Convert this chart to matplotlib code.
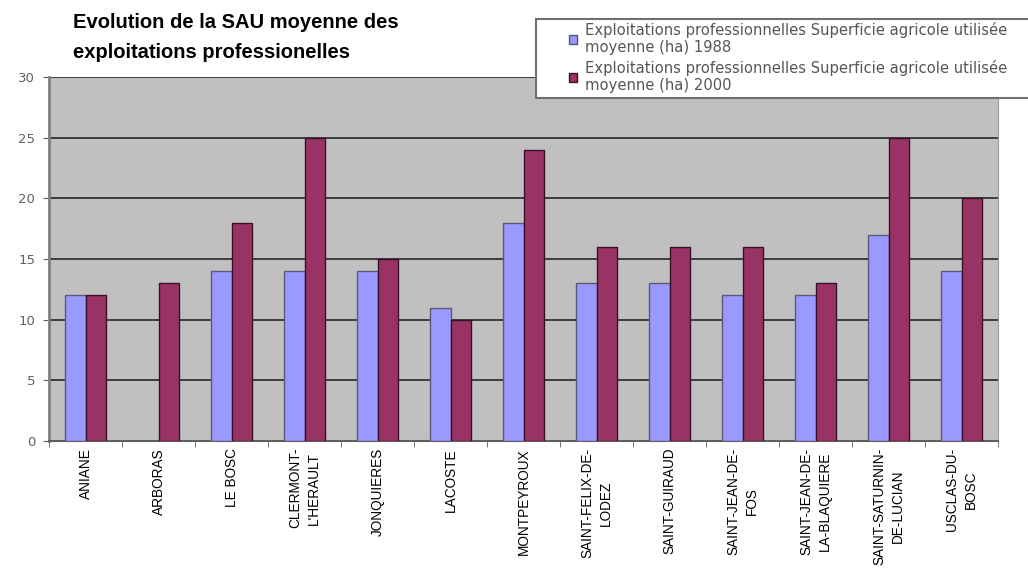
import numpy as np
import matplotlib
matplotlib.use("Agg")
import matplotlib.pyplot as plt
from matplotlib.patches import Rectangle

plt.rcParams['font.family'] = ['Liberation Sans', 'DejaVu Sans']

communes = ["ANIANE", "ARBORAS", "LE BOSC", "CLERMONT-\nL'HERAULT", "JONQUIERES",
            "LACOSTE", "MONTPEYROUX", "SAINT-FELIX-DE-\nLODEZ", "SAINT-GUIRAUD",
            "SAINT-JEAN-DE-\nFOS", "SAINT-JEAN-DE-\nLA-BLAQUIERE", "SAINT-SATURNIN-\nDE-LUCIAN",
            "USCLAS-DU-\nBOSC"]
sau1988 = [12, 0, 14, 14, 14, 11, 18, 13, 13, 12, 12, 17, 14]
sau2000 = [12, 13, 18, 25, 15, 10, 24, 16, 16, 16, 13, 25, 20]
labels = ["Exploitations professionnelles Superficie agricole utilisée\nmoyenne (ha) 1988",
          "Exploitations professionnelles Superficie agricole utilisée\nmoyenne (ha) 2000"]

W, H = 1028, 571
fig = plt.figure(figsize=(W/100, H/100), dpi=100)
ax = fig.add_axes([49/W, 1-441/H, (998-49)/W, (441-77)/H])

x = np.arange(len(communes))
w = 0.275
ax.bar(x - w/2, sau1988, w, color="#9999FF", edgecolor="#5a5a78", linewidth=1, label=labels[0], zorder=3)
ax.bar(x + w/2, sau2000, w, color="#993366", edgecolor="#3a1026", linewidth=1, label=labels[1], zorder=3)

ax.set_facecolor("#C0C0C0")
ax.set_xlim(-0.5, len(communes) - 0.5)
ax.set_ylim(0, 30)
ax.set_yticks(range(0, 31, 5))
ax.yaxis.grid(True, color="#333333", linewidth=1.3, zorder=1)

ax.set_xticks(x)
ax.set_xticklabels(communes, rotation=90, va="top", ha="center", multialignment="center",
                   fontsize=9.8, linespacing=1.45)
ax.tick_params(axis="x", length=0, pad=5)
ax.set_xticks(np.arange(-0.5, len(communes)), minor=True)
ax.tick_params(axis="x", which="minor", length=4, color="#606060")
ax.tick_params(axis="y", length=4, color="#606060", labelcolor="#606060", pad=6)
for lab in ax.get_yticklabels():
    lab.set_fontfamily("DejaVu Sans")
    lab.set_fontsize(9.5)

ax.spines["top"].set_visible(False)
ax.spines["right"].set_color("#9a9a9a")
ax.spines["left"].set_color("#808080")
ax.spines["left"].set_linewidth(2)
ax.spines["bottom"].set_color("#606060")
ax.spines["bottom"].set_linewidth(1.5)

fig.text(73/W, 1-13/H, "Evolution de la SAU moyenne des\nexploitations professionelles",
         fontsize=14.5, fontweight="bold", va="top", ha="left", linespacing=1.75)

# legend box (runs off the right edge like in the original)
fig.patches.append(Rectangle((536/W, 1-98/H), 520/W, 79/H, transform=fig.transFigure,
                             facecolor="white", edgecolor="#707070", linewidth=1.5, zorder=4))
leg = fig.legend(loc="upper left", bbox_to_anchor=(569/W, 1-22/H), frameon=False,
                 prop={"family": "DejaVu Sans", "size": 10.6},
                 handlelength=0.55, handleheight=0.55, handletextpad=0.55,
                 borderpad=0, borderaxespad=0, labelspacing=0.3)
leg.set_zorder(5)
for t in leg.get_texts():
    t.set_color("#555555")
    t.set_linespacing(1.2)

fig.savefig("out.png", dpi=100)
